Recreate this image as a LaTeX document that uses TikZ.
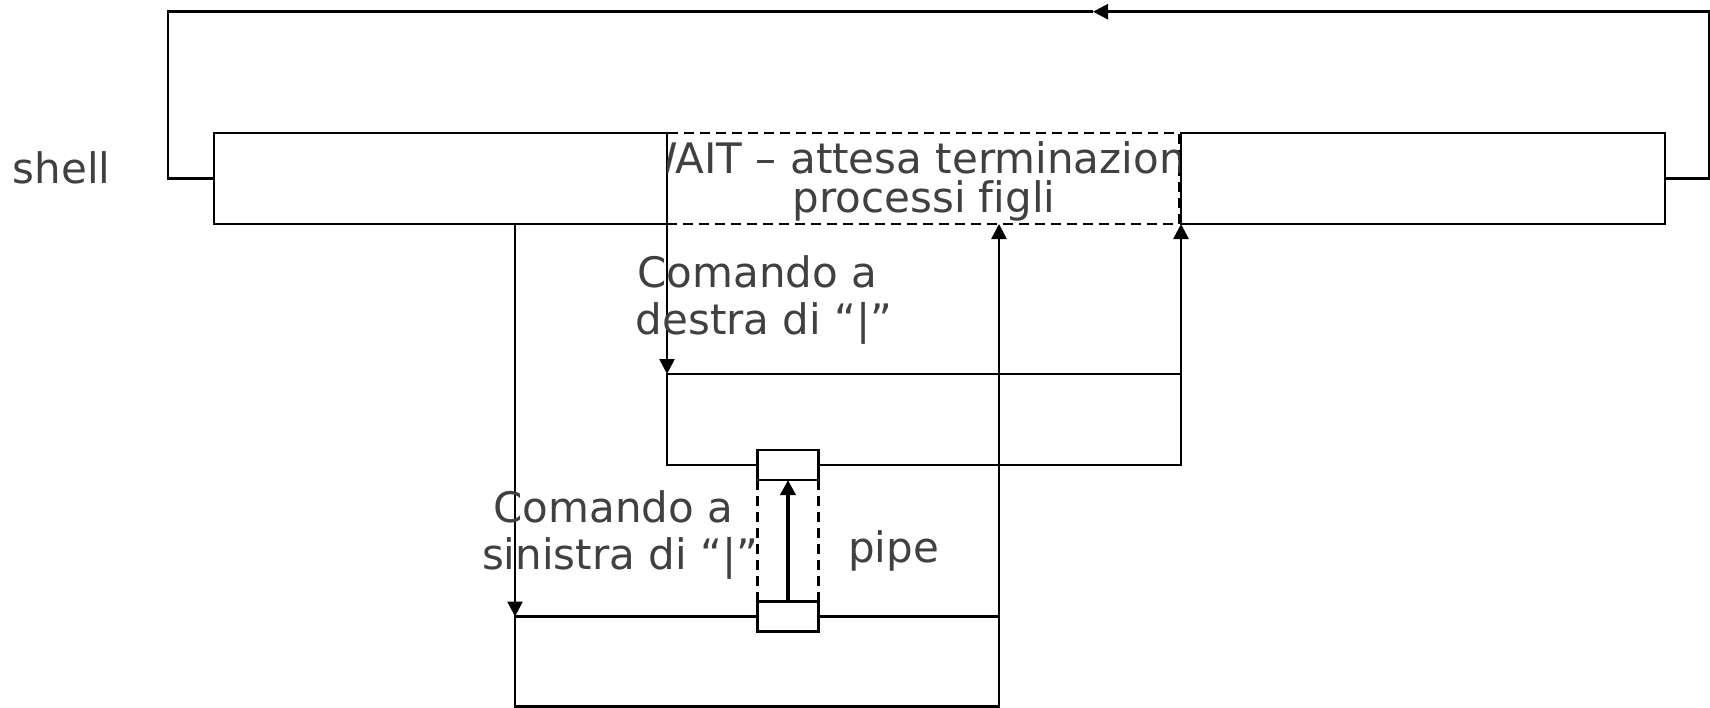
\documentclass[tikz,border=0pt]{standalone}
\usepackage{fontspec}
\setmainfont[Ligatures=NoCommon]{DejaVu Sans}
\usetikzlibrary{arrows.meta}
\definecolor{txtgray}{RGB}{64,64,64}
\begin{document}
\begin{tikzpicture}[x=1pt,y=-1pt,
  line width=2.6pt,
  box/.style={draw=black, rectangle, inner sep=0pt, outer sep=0pt},
  dbox/.style={box, line width=2.8pt, dash pattern=on 10pt off 6pt},
  pipebox/.style={box, fill=white, minimum width=60.5pt, minimum height=30pt},
  arr/.style={-{Triangle[length=15pt,width=15pt]}},
  dline/.style={line width=2.8pt, dash pattern=on 10pt off 6pt},
  lbl/.style={text=txtgray, inner sep=0pt, anchor=base, font=\fontsize{42pt}{46pt}\selectfont}]
\useasboundingbox (0,0) rectangle (1710,707);
% shell bar
\node[box, minimum width=453pt, minimum height=91pt] (lbox) at (440.5,178.5) {};
\node[dbox, minimum width=512pt, minimum height=91pt] (wait) at (923,178.5) {};
\node[box, minimum width=484pt, minimum height=91pt] (rbox) at (1423,178.5) {};
% command boxes
\node[box, minimum width=514pt, minimum height=91pt] (rcmd) at (924,419.5) {};
\node[box, minimum width=484pt, minimum height=90pt] (lcmd) at (757,661.5) {};
% coordinates for loop
\coordinate (rc) at (1709,11.7);
\coordinate (tip) at (1093,11.7);
\coordinate (lc) at (168,11.7);
% connectors
\draw[arr] (lbox.south -| lcmd.west) -- (lcmd.north west);
\draw[arr] (lbox.south east) -- (rcmd.north west);
\draw[arr] (lcmd.north east) -- (lcmd.north east |- wait.south);
\draw[arr] (rcmd.north east) -- (rbox.south west);
\draw[arr] (rbox.east) -| (rc) -- (tip);
\draw (tip) -- (lc) |- (lbox.west);
% pipe
\node[pipebox] (pipetop) at (788,465) {};
\node[pipebox] (pipebot) at (788,616.7) {};
\draw[dline] (pipebot.north west) -- (pipetop.south west);
\draw[dline] (pipebot.north east) -- (pipetop.south east);
\draw[line width=4.5pt, -{Triangle[length=15pt,width=15pt]}] (pipebot.north) -- (pipetop.south);
% labels
\node[lbl] (shell) at (61.5,183) {shell};
\begin{scope}
\clip (wait.north west) rectangle (wait.south east);
\node[lbl] (wait1) at (924,173) {WAIT – attesa terminazione};
\node[lbl] (wait2) at (924,212) {processi figli};
\end{scope}
\node[lbl] (dx1) at (764,287) {Comando a\kern.318em};
\node[lbl] (dx2) at (764,334) {destra di “|”};
\node[lbl] (sx1) at (620,522) {Comando a\kern.318em};
\node[lbl] (sx2) at (620,569) {sinistra di “|”};
\node[lbl] (pipe) at (893.5,562) {pipe};
\end{tikzpicture}
\end{document}
